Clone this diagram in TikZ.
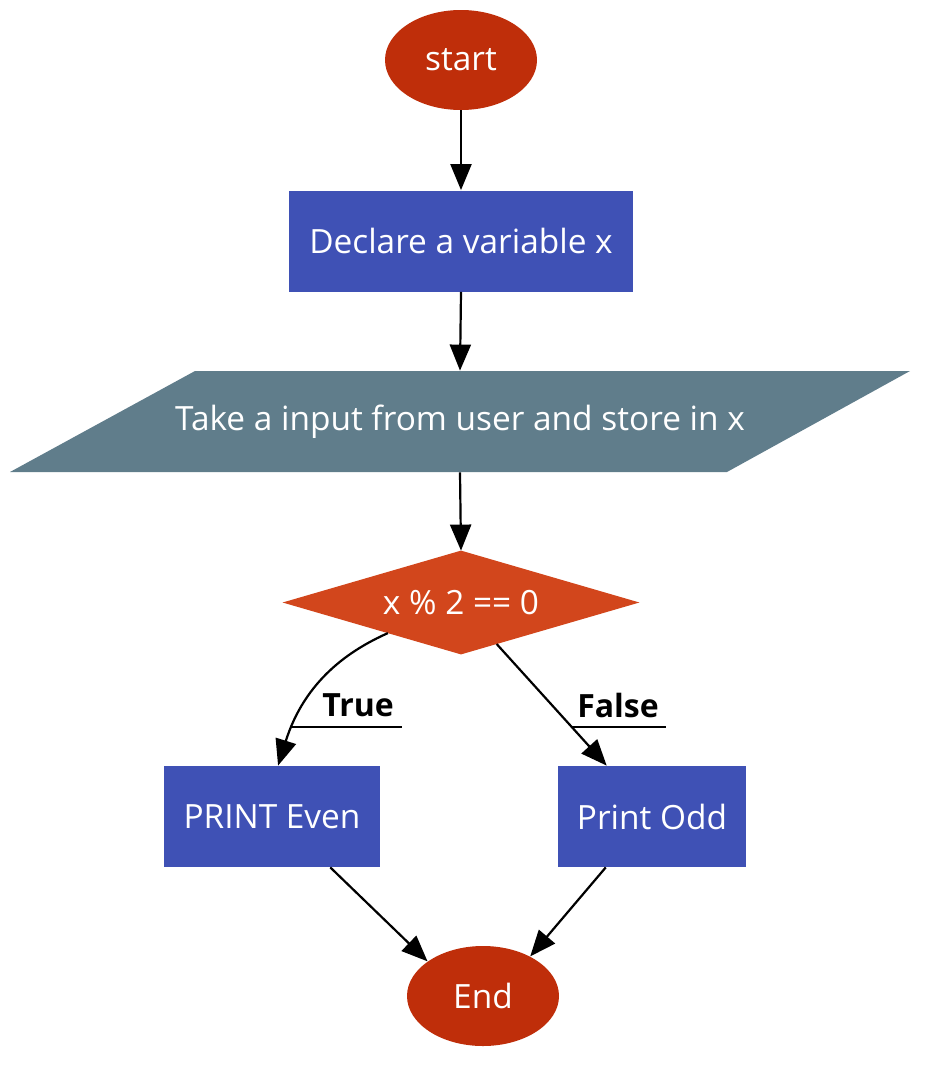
\documentclass[tikz,border=0pt]{standalone}
\usepackage{fontspec}
\setmainfont{Open Sans}
\usetikzlibrary{arrows.meta,shapes.geometric,calc,backgrounds}
\definecolor{cstart}{RGB}{191,46,10}
\definecolor{cbox}{RGB}{63,81,181}
\definecolor{cpar}{RGB}{96,125,139}
\definecolor{cdia}{RGB}{210,70,28}
\begin{document}
\begin{tikzpicture}[x=0.5pt,y=-0.5pt,
  base/.style={inner sep=0pt,text=white,font=\fontsize{16.7}{19}\selectfont},
  term/.style={base,ellipse,fill=cstart,minimum width=76pt,minimum height=50pt},
  proc/.style={base,rectangle,fill=cbox,minimum height=50.5pt},
  plain/.style={base,minimum height=50.5pt},
  lbl/.style={inner sep=0pt,text=black,font=\fontsize{16}{19}\selectfont\bfseries},
  conn/.style={line width=1.1pt,-{Triangle[length=13pt,width=10.5pt]}},
  uline/.style={line width=1.1pt}]
\useasboundingbox (0,0) rectangle (936,1072);
\node[term] (start) at (461,60) {start};
\node[proc,minimum width=172pt] (decl) at (461,241) {Declare a variable x};
\node[plain,minimum width=200pt] (inp) at (460,421.5) {Take a input from user and store in x};
\node[plain,minimum width=178pt,minimum height=51.5pt] (dec) at (461,602.5) {x \% 2 == 0};
\node[proc,minimum width=108pt] (even) at (272,816.5) {PRINT Even};
\node[proc,minimum width=94pt] (odd) at (652,816.5) {Print Odd};
\node[term] (end) at (483,996) {End};
\begin{scope}[on background layer]
  \fill[cpar] (195,371) -- (910,371) -- (727,472) -- (10,472) -- cycle;
  \fill[cdia] (dec.north) -- (dec.east) -- (dec.south) -- (dec.west) -- cycle;
\end{scope}
\draw[conn] (start.south) -- (decl.north);
\draw[conn] (decl.south) -- (inp.north);
\draw[conn] (inp.south) -- (dec.north);
\coordinate (tS) at ($(dec.west)!0.59!(dec.south)$);
\coordinate (fS) at ($(dec.south)!0.2!(dec.east)$);
\coordinate (tE) at ($(even.north west)!0.528!(even.north east)$);
\coordinate (fE) at ($(odd.north west)!0.26!(odd.north east)$);
\draw[conn] (tS) .. controls (350,650) and (305,680) .. (tE);
\draw[conn] (fS) -- (fE);
\node[lbl] (tl) at (358,705) {True};
\node[lbl] (fl) at (618,705) {False};
\draw[uline] (290,727) -- (402,727);
\draw[uline] (572,727) -- (666,727);
\draw[conn] ($(even.south west)!0.769!(even.south east)$) -- (end.148);
\draw[conn] ($(odd.south west)!0.255!(odd.south east)$) -- (end.40);
\end{tikzpicture}
\end{document}
